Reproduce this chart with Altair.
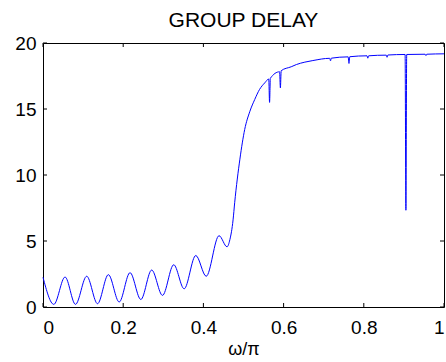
import altair as alt
import pandas as pd

# frequency (omega/pi) and group delay values
freq = [0.000, 0.027, 0.055, 0.081, 0.109, 0.136, 0.163, 0.190, 0.217, 0.244,
        0.271, 0.298, 0.326, 0.352, 0.381, 0.407, 0.439, 0.459, 0.466, 0.474,
        0.478, 0.491, 0.503, 0.516, 0.528, 0.540, 0.553, 0.563, 0.565, 0.567,
        0.590, 0.592, 0.594, 0.619, 0.632, 0.653, 0.673, 0.715, 0.717, 0.719,
        0.761, 0.763, 0.765, 0.808, 0.810, 0.812, 0.856, 0.858, 0.860, 0.903,
        0.905, 0.907, 0.953, 0.955, 0.957, 1.000]
delay = [2.25, 0.20, 2.27, 0.20, 2.33, 0.25, 2.45, 0.38, 2.60, 0.57,
         2.80, 0.88, 3.20, 1.38, 3.90, 2.33, 5.40, 4.56, 5.10, 6.60,
         7.90, 11.20, 13.45, 14.83, 15.72, 16.48, 16.98, 17.27, 15.50, 17.33,
         17.82, 16.60, 17.90, 18.20, 18.37, 18.55, 18.67, 18.84, 18.65, 18.85,
         18.95, 18.45, 18.96, 19.03, 18.85, 19.03, 19.08, 18.92, 19.09, 19.13,
         7.33, 19.13, 19.15, 19.05, 19.15, 19.18]

x_ticks = [0, 0.2, 0.4, 0.6, 0.8, 1.0]
y_ticks = [0, 5, 10, 15, 20]

W, H = 401, 264
FONT = "Liberation Sans"

df = pd.DataFrame({"w": freq, "gd": delay})
xt = pd.DataFrame({"w": x_ticks})
yt = pd.DataFrame({"gd": y_ticks})

xscale = alt.Scale(domain=[0, 1], nice=False, zero=False)
yscale = alt.Scale(domain=[0, 20], nice=False, zero=False)

x_axis = alt.Axis(title="ω/π", values=x_ticks, format="~g", ticks=False, tickSize=0,
                  domain=False, grid=False, labelFontSize=19, labelFont=FONT,
                  labelColor="black", labelPadding=11, titleFontSize=18,
                  titleFont=FONT, titleFontWeight="normal", titleColor="black",
                  titlePadding=3)
y_axis = alt.Axis(title=None, values=y_ticks, ticks=False, tickSize=0, domain=False,
                  grid=False, labelFontSize=19, labelFont=FONT, labelColor="black",
                  labelPadding=7)

line = alt.Chart(df).mark_line(color="#0000ff", strokeWidth=1, interpolate="monotone").encode(
    x=alt.X("w:Q", scale=xscale, axis=x_axis),
    y=alt.Y("gd:Q", scale=yscale, axis=y_axis),
)

bottom_ticks = alt.Chart(xt).mark_rule(color="black", strokeWidth=1).encode(
    x=alt.X("w:Q", scale=xscale, axis=x_axis), y=alt.value(H), y2=alt.value(H - 4))
top_ticks = alt.Chart(xt).mark_rule(color="black", strokeWidth=1).encode(
    x=alt.X("w:Q", scale=xscale, axis=x_axis), y=alt.value(0), y2=alt.value(4))
left_ticks = alt.Chart(yt).mark_rule(color="black", strokeWidth=1).encode(
    y=alt.Y("gd:Q", scale=yscale, axis=y_axis), x=alt.value(0), x2=alt.value(4))
right_ticks = alt.Chart(yt).mark_rule(color="black", strokeWidth=1).encode(
    y=alt.Y("gd:Q", scale=yscale, axis=y_axis), x=alt.value(W), x2=alt.value(W - 4))

chart = alt.layer(line, bottom_ticks, top_ticks, left_ticks, right_ticks).properties(
    width=W, height=H,
    title=alt.TitleParams("GROUP DELAY", fontSize=21, font=FONT, fontWeight="normal",
                          color="black", anchor="middle", offset=3),
    autosize=alt.AutoSizeParams(type="none"),
    padding={"left": 43, "top": 43, "right": 2, "bottom": 55},
    background="white",
).configure_view(stroke="black", strokeWidth=1)

chart.save("out.html", embed_options={"renderer": "svg", "actions": False})
